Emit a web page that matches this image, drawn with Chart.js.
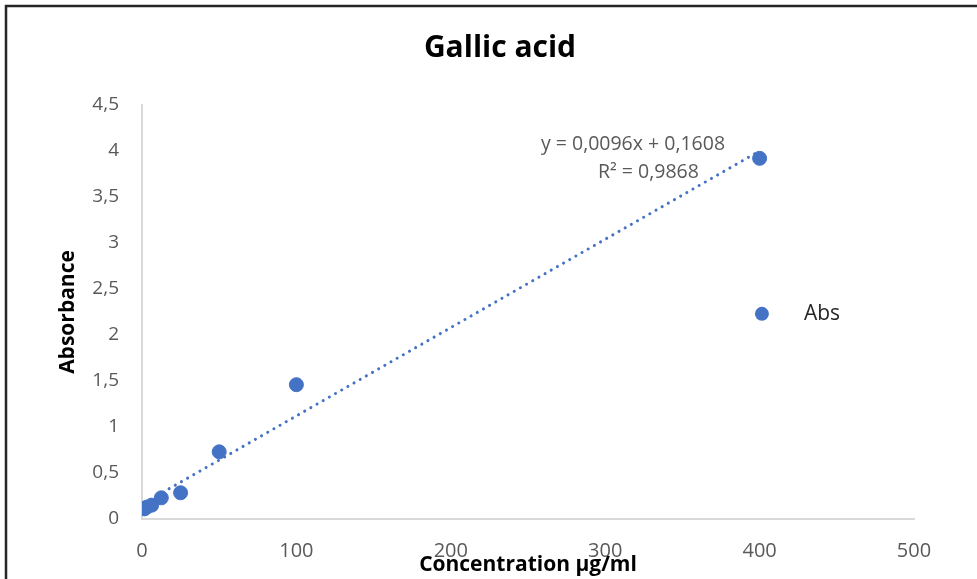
<!DOCTYPE html>
<html>
<head>
<meta charset="utf-8">
<title>Gallic acid</title>
<script src="https://cdn.jsdelivr.net/npm/chart.js@4/dist/chart.umd.min.js"></script>
<style>
  html, body { margin:0; padding:0; background:#fff; }
  #wrap { width:977px; height:579px; position:relative; }
</style>
</head>
<body>
<div id="wrap"><canvas id="chart" width="977" height="579"></canvas></div>
<script>
// ---- data ----
const concentration = [1.5625, 3.125, 6.25, 12.5, 25, 50, 100, 400];
const absorbance    = [0.11, 0.13, 0.15, 0.23, 0.285, 0.73, 1.46, 3.92];
const seriesName = "Abs";
const titleText = "Gallic acid";
const xTitle = "Concentration µg/ml";
const yTitle = "Absorbance";
const xTicks = [0, 100, 200, 300, 400, 500];
const yTicks = [0, 0.5, 1, 1.5, 2, 2.5, 3, 3.5, 4, 4.5];
// linear trendline as printed on the chart
const slope = 0.0096;
const intercept = 0.1608;
const eqLines = ["y = 0,0096x + 0,1608", "R² = 0,9868"];

const blue = "#4472C4";
const gray = "#595959";
const axisGray = "#d9d9d9";
const fam = "'Open Sans', Lato, sans-serif";

const points = concentration.map((x, i) => ({ x: x, y: absorbance[i] }));
const xMin = Math.min(...concentration), xMax = Math.max(...concentration);
const trend = [
  { x: xMin, y: slope * xMin + intercept },
  { x: xMax, y: slope * xMax + intercept }
];

const comma = v => String(v).replace(".", ",");

// frame, title, axis titles, equation and legend
const decor = {
  id: "decor",
  beforeDraw(chart) {
    const c = chart.ctx;
    c.save();
    c.fillStyle = "#fff";
    c.fillRect(0, 0, chart.width, chart.height);
    c.restore();
  },
  afterDraw(chart) {
    const c = chart.ctx, a = chart.chartArea;
    const xs = chart.scales.x, ys = chart.scales.y;
    c.save();
    // outer frame (cut at right and bottom)
    c.strokeStyle = "#262626";
    c.lineWidth = 2.5;
    c.beginPath();
    c.moveTo(6, chart.height + 5);
    c.lineTo(6, 6);
    c.lineTo(chart.width + 5, 6);
    c.stroke();

    c.textAlign = "center";
    c.textBaseline = "middle";
    // title
    c.fillStyle = "#000";
    c.font = "bold 30px " + fam;
    c.fillText(titleText, 500, 48);
    // x title (overlaps tick labels as in the source)
    c.font = "bold 21px " + fam;
    c.fillText(xTitle, 528, 565);
    // y title
    c.save();
    c.translate(68, (a.top + a.bottom) / 2);
    c.rotate(-Math.PI / 2);
    c.fillText(yTitle, 0, 0);
    c.restore();

    // trendline equation
    c.fillStyle = gray;
    c.font = "19.5px " + fam;
    c.fillText(eqLines[0], xs.getPixelForValue(318), ys.getPixelForValue(4.07));
    c.fillText(eqLines[1], xs.getPixelForValue(328), ys.getPixelForValue(3.77));

    // legend
    const lx = xs.getPixelForValue(401.5), ly = ys.getPixelForValue(2.23);
    c.fillStyle = blue;
    c.beginPath();
    c.arc(lx, ly, 7, 0, Math.PI * 2);
    c.fill();
    c.fillStyle = "#262626";
    c.textAlign = "left";
    c.font = "21px " + fam;
    c.fillText(seriesName, lx + 42, ly);
    c.restore();
  }
};

new Chart(document.getElementById("chart"), {
  type: "scatter",
  data: {
    datasets: [
      {
        label: seriesName,
        data: points,
        backgroundColor: blue,
        borderColor: blue,
        pointRadius: 7,
        pointHoverRadius: 7,
        order: 1
      },
      {
        type: "line",
        label: "Linear (Abs)",
        data: trend,
        borderColor: blue,
        borderWidth: 3,
        borderDash: [0.1, 7],
        borderCapStyle: "round",
        pointRadius: 0,
        fill: false,
        order: 2
      }
    ]
  },
  options: {
    responsive: false,
    animation: false,
    devicePixelRatio: 1,
    layout: { padding: { left: 0, right: 63, top: 105, bottom: 0 } },
    plugins: {
      legend: { display: false },
      title: { display: false },
      tooltip: { enabled: false }
    },
    scales: {
      x: {
        type: "linear",
        min: xTicks[0],
        max: xTicks[xTicks.length - 1],
        afterFit: s => { s.height = 60; },
        afterBuildTicks: s => { s.ticks = xTicks.map(v => ({ value: v })); },
        grid: { display: false, drawTicks: false },
        border: { display: true, color: axisGray, width: 2 },
        ticks: { color: gray, font: { family: fam, size: 20 }, padding: 20, callback: v => comma(v) }
      },
      y: {
        type: "linear",
        min: yTicks[0],
        max: yTicks[yTicks.length - 1],
        afterFit: s => { s.width = 142; },
        afterBuildTicks: s => { s.ticks = yTicks.map(v => ({ value: v })); },
        grid: { display: false, drawTicks: false },
        border: { display: true, color: axisGray, width: 2 },
        ticks: { color: gray, font: { family: fam, size: 19 }, padding: 23, callback: v => comma(v) }
      }
    }
  },
  plugins: [decor]
});
</script>
</body>
</html>
